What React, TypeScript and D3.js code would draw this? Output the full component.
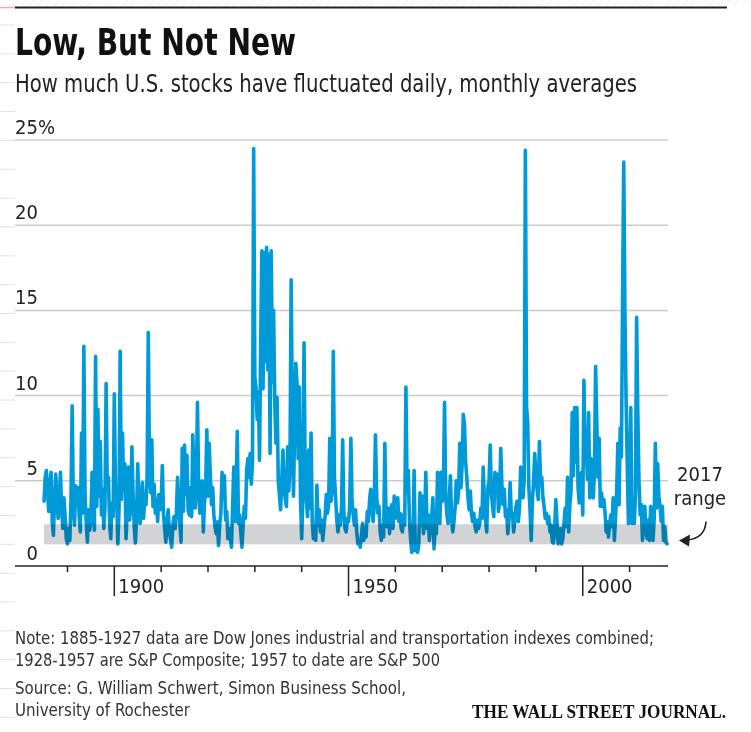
import * as d3 from "d3";

// Monthly-average daily volatility at quarterly steps
const startYear = 1885;
const stepYears = 0.25;

const vol1885 = [3.8, 5.2, 5.6, 4.4, 3.2, 4.8, 5.5, 2.6, 1.8, 3.9, 5.4, 4.1, 2.8, 3.6, 5.5, 3.4, 2.2, 4.0, 2.9, 1.6];
const vol1890 = [1.3, 2.2, 1.5, 3.8, 9.4, 3.6, 2.4, 4.7, 3.9, 4.6, 2.9, 2.0, 7.8, 3.1, 12.9, 4.2, 2.6, 1.4, 3.3, 2.1,
  2.8, 5.5, 3.2, 2.1, 12.3, 3.5, 9.2, 4.1, 7.3, 3.0, 4.5, 2.2, 3.4, 10.7, 4.5, 5.2, 2.5, 1.6, 3.7, 2.9];
const vol1900 = [10.1, 4.6, 4.0, 1.3, 3.2, 12.6, 3.9, 7.8, 4.4, 6.0, 1.6, 3.1, 5.8, 2.7, 3.5, 7.0, 4.2, 2.3, 1.35, 2.8,
  6.0, 3.8, 2.5, 3.4, 4.9, 2.8, 4.1, 3.6, 5.2, 13.7, 5.9, 4.3, 7.4, 3.5, 4.8, 3.1, 3.9, 2.6, 4.2, 3.3];
const vol1910 = [3.6, 5.9, 3.0, 2.2, 1.4, 2.7, 3.3, 2.0, 1.6, 1.1, 2.4, 2.9, 2.2, 3.1, 5.2, 3.7, 2.5, 1.4, 6.9, 3.2,
  7.1, 4.2, 6.5, 3.3, 3.0, 4.6, 2.9, 7.7, 5.0, 3.4, 4.4, 9.6, 4.8, 3.1, 3.9, 5.0, 2.0, 3.7, 4.5, 8.0];
const vol1920 = [4.1, 7.2, 5.3, 3.6, 4.6, 3.0, 2.3, 1.9, 2.6, 1.2, 2.4, 3.1, 5.5, 4.0, 5.3, 2.7, 3.2, 1.6, 2.2, 1.7,
  1.1, 3.4, 5.8, 2.6, 4.4, 7.9, 2.5, 3.0, 2.0, 1.1, 2.4, 3.5, 2.8, 5.6, 6.3, 5.2, 6.6, 4.8, 6.2, 24.5];
const vol1930 = [11.1, 10.5, 8.6, 10.2, 6.2, 13.1, 18.5, 10.4, 18.4, 12.0, 18.7, 11.5, 18.3, 6.6, 18.5, 10.8, 15.0, 9.7, 7.2, 9.9,
  5.0, 4.2, 3.3, 5.1, 6.8, 4.6, 3.9, 3.5, 7.0, 4.4, 5.8, 16.8, 9.0, 4.1, 8.3, 11.9, 10.7, 6.3, 10.5, 4.0];
const vol1940 = [1.6, 4.0, 13.1, 5.2, 3.9, 2.9, 6.8, 3.4, 7.8, 2.6, 1.6, 2.2, 1.5, 4.75, 2.4, 3.3, 2.0, 2.7, 1.5, 2.3,
  2.9, 4.2, 3.1, 3.6, 7.5, 3.8, 4.4, 12.6, 5.2, 4.0, 2.7, 2.0, 3.0, 2.4, 3.4, 7.4, 3.1, 2.2, 2.0, 2.8];
const vol1950 = [2.6, 3.5, 7.5, 3.8, 3.0, 2.4, 3.3, 2.0, 1.3, 1.5, 1.1, 1.8, 2.5, 1.5, 2.2, 1.7, 3.2, 2.6, 3.9, 4.5,
  3.4, 2.6, 3.8, 7.7, 4.2, 3.1, 3.5, 2.0, 1.5, 2.4, 1.7, 7.2, 3.0, 2.3, 3.4, 1.9, 2.8, 3.6, 2.2, 4.1];
const vol1960 = [2.8, 3.3, 4.0, 2.6, 3.1, 2.2, 2.0, 3.0, 2.4, 10.5, 4.3, 5.6, 2.7, 1.6, 0.8, 1.2, 5.6, 0.9, 1.4, 0.8,
  1.3, 4.3, 2.4, 4.1, 1.9, 2.7, 5.5, 2.2, 3.0, 1.5, 2.1, 2.8, 4.0, 1.0, 2.3, 1.9, 5.5, 3.2, 2.5, 5.5];
const vol1970 = [3.8, 4.6, 9.6, 4.1, 3.0, 2.5, 3.9, 5.3, 2.8, 2.0, 2.6, 3.4, 5.0, 3.7, 4.4, 7.2, 4.6, 5.9, 8.9, 8.3,
  6.1, 5.2, 4.0, 3.3, 4.4, 3.0, 2.6, 3.1, 2.3, 2.0, 2.7, 2.2, 2.5, 3.4, 2.8, 5.8, 3.9, 2.7, 2.0, 4.6];
const vol1980 = [5.0, 7.1, 4.2, 3.5, 2.9, 5.5, 4.3, 5.4, 3.2, 3.8, 6.9, 4.7, 3.6, 4.5, 2.9, 3.3, 1.9, 2.7, 4.9, 3.0,
  3.1, 2.0, 2.7, 3.5, 3.8, 2.6, 3.4, 5.8, 4.3, 4.0, 5.1, 24.4, 9.4, 8.4, 4.6, 3.3, 1.5, 3.8, 4.9, 6.6];
const vol1990 = [5.4, 4.5, 3.9, 7.3, 4.8, 5.2, 4.0, 3.5, 2.8, 3.1, 2.5, 2.9, 2.0, 2.4, 1.4, 1.35, 2.1, 3.9, 2.6, 1.3,
  1.8, 2.2, 1.3, 1.6, 2.5, 3.4, 2.3, 5.2, 2.0, 3.6, 4.4, 9.0, 5.3, 9.3, 6.1, 9.3, 4.6, 3.7, 5.0, 5.5];
const vol2000 = [3.0, 10.9, 6.2, 7.0, 5.1, 9.0, 4.0, 6.3, 6.0, 4.0, 5.6, 11.7, 8.4, 5.2, 7.5, 3.5, 4.3, 3.5, 3.9, 3.2,
  2.0, 2.6, 1.7, 2.5, 3.0, 2.3, 4.0, 1.5, 2.8, 4.4, 7.2, 3.6, 8.1, 6.4, 15.6, 23.7, 15.0, 9.8, 6.0, 2.5];
const vol2010 = [4.6, 9.3, 2.5, 3.3, 2.5, 4.2, 14.6, 9.0, 5.0, 3.0, 3.6, 1.5, 2.4, 3.5, 2.0, 1.6, 2.7, 1.5, 3.5, 2.2,
  1.5, 2.8, 7.2, 3.4, 6.0, 4.1, 3.5, 2.6, 3.5, 1.5, 2.3, 1.4, 1.3];

const range2017 = [1.27, 2.45];
const yTicks = [0, 5, 10, 15, 20, 25];
const gridTicks = [5, 10, 15, 20, 25];
const decadeTicks = [1890, 1900, 1910, 1920, 1930, 1940, 1950, 1960, 1970, 1980, 1990, 2000, 2010];
const labeledYears = [1900, 1950, 2000];

const noteLines = [
  "Note: 1885-1927 data are Dow Jones industrial and transportation indexes combined;",
  "1928-1957 are S&P Composite; 1957 to date are S&P 500",
];
const sourceLines = [
  "Source: G. William Schwert, Simon Business School,",
  "University of Rochester",
];

const narrow = "'Liberation Sans Narrow', 'DejaVu Sans Condensed', 'Open Sans', sans-serif";

export default function App() {
  const width = 751;
  const height = 732;

  const x = d3.scaleLinear().domain([1878.8, 2018.2]).range([15, 668]);
  const y = d3.scaleLinear().domain([0, 25]).range([566, 140]);

  const values = [vol1885, vol1890, vol1900, vol1910, vol1920, vol1930, vol1940,
    vol1950, vol1960, vol1970, vol1980, vol1990, vol2000, vol2010].flat();
  const points = values.map((v, i) => ({ year: startYear + i * stepYears, v }));

  const line = d3.line<{ year: number; v: number }>()
    .x(d => x(d.year))
    .y(d => y(d.v));

  const [x0, x1] = x.range();
  const bandX = x(startYear);
  const tipX = x1 + 11;
  const tipY = y(1.5);

  // faint page ruler marks on the left edge
  const rulerMarks = d3.range(25, height, 28.85);

  return (
    <div style={{ position: "absolute", left: 0, top: 0 }}>
      <svg width={width} height={height} style={{ display: "block", background: "#fff" }}>
        <defs>
          <pattern id="hatch" width="6" height="6" patternUnits="userSpaceOnUse" patternTransform="rotate(45)">
            <line x1="0" y1="0" x2="0" y2="6" stroke="#e6e6e6" strokeWidth="1" />
          </pattern>
        </defs>

        <rect x={0} y={0} width={width} height={6} fill="url(#hatch)" />
        <line x1={0} x2={15} y1={7.5} y2={7.5} stroke="#f3a6c2" strokeWidth={1.5} />
        <line x1={15} x2={727} y1={7.5} y2={7.5} stroke="#222" strokeWidth={2} />
        {rulerMarks.map(m => (
          <line key={m} x1={0} x2={15} y1={m} y2={m} stroke="#e2e2e2" strokeWidth={1} />
        ))}

        <text x={15} y={55} fontFamily={narrow} fontWeight="bold" fontSize={37} fill="#111"
          textLength={281} lengthAdjust="spacingAndGlyphs">Low, But Not New</text>
        <text x={15} y={92} fontFamily={narrow} fontSize={24} fill="#222"
          textLength={622} lengthAdjust="spacingAndGlyphs">How much U.S. stocks have fluctuated daily, monthly averages</text>

        {/* gridlines */}
        {gridTicks.map(t => (
          <line key={t} x1={x0} x2={x1} y1={y(t)} y2={y(t)} stroke="#cccccc" strokeWidth={1.5} />
        ))}

        {/* y labels */}
        {yTicks.map(t => (
          <text key={t} x={38} y={y(t) - 6} textAnchor="end" fontFamily={narrow} fontSize={20} fill="#222">{t}</text>
        ))}
        <text x={38} y={y(25) - 6} fontFamily={narrow} fontSize={20} fill="#222">%</text>

        {/* series */}
        <path d={line(points) ?? ""} fill="none" stroke="#009ad8" strokeWidth={3.6}
          strokeLinejoin="round" strokeLinecap="round" />

        {/* 2017 range band */}
        <rect x={bandX} width={x1 - bandX} y={y(range2017[1])} height={y(range2017[0]) - y(range2017[1])}
          fill="#d2d3d5" style={{ mixBlendMode: "multiply" }} />

        {/* x axis */}
        <line x1={x0} x2={x1} y1={y(0)} y2={y(0)} stroke="#222" strokeWidth={1.5} />
        {decadeTicks.map(t => (
          <line key={t} x1={x(t)} x2={x(t)} y1={y(0)} y2={y(0) + (labeledYears.includes(t) ? 30 : 6)}
            stroke="#222" strokeWidth={1.5} />
        ))}
        {labeledYears.map(t => (
          <text key={t} x={x(t) + 4} y={y(0) + 27} fontFamily={narrow} fontSize={20} fill="#222">{t}</text>
        ))}

        {/* annotation */}
        <text x={700} y={481} textAnchor="middle" fontFamily={narrow} fontSize={20} fill="#222">2017</text>
        <text x={700} y={505} textAnchor="middle" fontFamily={narrow} fontSize={20} fill="#222">range</text>
        <path d={`M${tipX + 27},${tipY - 19} Q${tipX + 26},${tipY - 2} ${tipX + 8},${tipY - 0.5}`}
          fill="none" stroke="#222" strokeWidth={1.6} />
        <polygon points={`${tipX},${tipY} ${tipX + 11},${tipY - 6} ${tipX + 10},${tipY + 6}`} fill="#222" />

        {/* notes */}
        <text x={15} y={644} fontFamily={narrow} fontSize={17} fill="#333" textLength={639} lengthAdjust="spacingAndGlyphs">{noteLines[0]}</text>
        <text x={15} y={666} fontFamily={narrow} fontSize={17} fill="#333" textLength={425} lengthAdjust="spacingAndGlyphs">{noteLines[1]}</text>
        <text x={15} y={694} fontFamily={narrow} fontSize={17} fill="#333" textLength={391} lengthAdjust="spacingAndGlyphs">{sourceLines[0]}</text>
        <text x={15} y={716} fontFamily={narrow} fontSize={17} fill="#333" textLength={175} lengthAdjust="spacingAndGlyphs">{sourceLines[1]}</text>

        <text x={472} y={718} fontFamily="'Liberation Serif', 'DejaVu Serif', serif" fontWeight="bold" fontSize={19}
          fill="#111" textLength={254} lengthAdjust="spacingAndGlyphs">THE WALL STREET JOURNAL.</text>
      </svg>
    </div>
  );
}
